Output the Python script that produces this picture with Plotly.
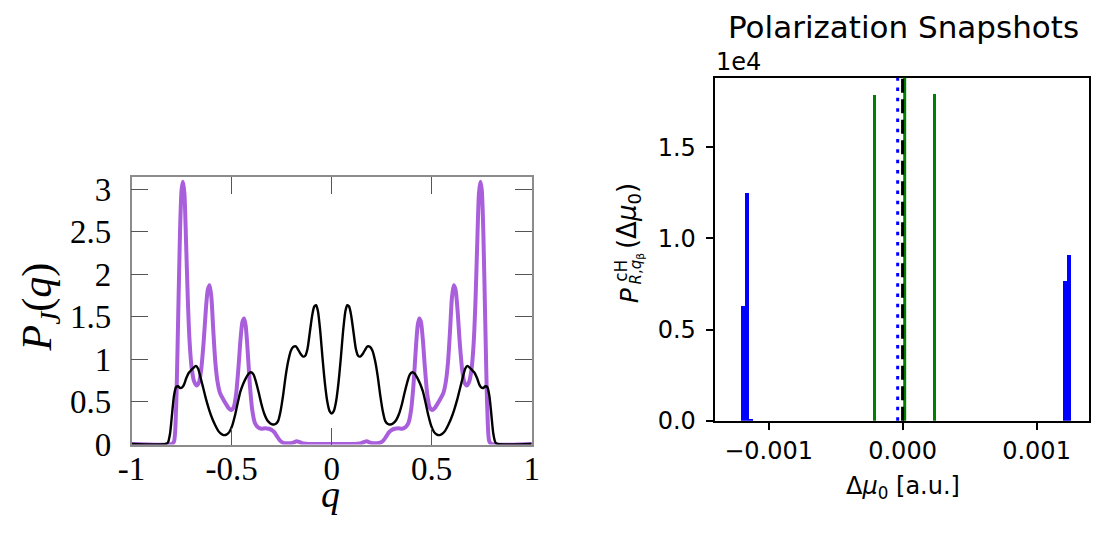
import plotly.graph_objects as go

# ---------------- Left panel data: P_J(q) ----------------
purple_q = [-1.000, -0.800, -0.788, -0.778, -0.768, -0.758, -0.750, -0.743, -0.736, -0.728,
            -0.719, -0.710, -0.700, -0.688, -0.676, -0.664, -0.652, -0.640, -0.629, -0.619,
            -0.610, -0.601, -0.592, -0.582, -0.571, -0.558, -0.543, -0.528, -0.514, -0.502,
            -0.490, -0.478, -0.466, -0.455, -0.446, -0.438, -0.430, -0.420, -0.409, -0.397,
            -0.384, -0.370, -0.352, -0.333, -0.315, -0.300, -0.287, -0.273, -0.258, -0.243,
            -0.225, -0.205, -0.188, -0.175, -0.163, -0.148, -0.128, -0.100, -0.050, 0.000,
            0.050, 0.100, 0.128, 0.148, 0.163, 0.175, 0.188, 0.205, 0.225, 0.243,
            0.258, 0.273, 0.287, 0.300, 0.315, 0.333, 0.352, 0.370, 0.384, 0.397,
            0.409, 0.420, 0.430, 0.438, 0.446, 0.455, 0.466, 0.478, 0.490, 0.502,
            0.514, 0.528, 0.543, 0.558, 0.571, 0.582, 0.592, 0.601, 0.610, 0.619,
            0.629, 0.640, 0.652, 0.664, 0.676, 0.688, 0.700, 0.710, 0.719, 0.728,
            0.736, 0.743, 0.750, 0.758, 0.768, 0.778, 0.788, 0.800, 1.000]
purple_p = [0.00, 0.00, 0.03, 0.40, 1.40, 2.50, 3.00, 3.09, 2.95, 2.40,
            1.70, 1.20, 0.90, 0.74, 0.69, 0.72, 0.88, 1.20, 1.58, 1.82,
            1.87, 1.72, 1.35, 0.98, 0.74, 0.60, 0.53, 0.47, 0.42, 0.40,
            0.43, 0.58, 0.90, 1.25, 1.44, 1.48, 1.40, 1.10, 0.70, 0.40,
            0.25, 0.20, 0.18, 0.185, 0.18, 0.165, 0.14, 0.09, 0.04, 0.015,
            0.008, 0.010, 0.020, 0.032, 0.025, 0.010, 0.004, 0.001, 0.000, 0.000,
            0.000, 0.001, 0.004, 0.010, 0.025, 0.032, 0.020, 0.010, 0.008, 0.015,
            0.04, 0.09, 0.14, 0.165, 0.18, 0.185, 0.18, 0.20, 0.25, 0.40,
            0.70, 1.10, 1.40, 1.48, 1.44, 1.25, 0.90, 0.58, 0.43, 0.40,
            0.42, 0.47, 0.53, 0.60, 0.74, 0.98, 1.35, 1.72, 1.87, 1.82,
            1.58, 1.20, 0.88, 0.72, 0.69, 0.74, 0.90, 1.20, 1.70, 2.40,
            2.95, 3.09, 3.00, 2.50, 1.40, 0.40, 0.03, 0.00, 0.00]

black_q = [-1.000, -0.830, -0.818, -0.808, -0.798, -0.788, -0.778, -0.768, -0.758, -0.748,
           -0.738, -0.726, -0.714, -0.702, -0.690, -0.679, -0.668, -0.656, -0.642, -0.627,
           -0.612, -0.597, -0.582, -0.567, -0.553, -0.540, -0.526, -0.512, -0.498, -0.484,
           -0.470, -0.456, -0.442, -0.428, -0.415, -0.403, -0.391, -0.378, -0.364, -0.350,
           -0.336, -0.322, -0.308, -0.294, -0.281, -0.268, -0.256, -0.243, -0.230, -0.217,
           -0.204, -0.191, -0.179, -0.167, -0.155, -0.143, -0.132, -0.121, -0.109, -0.097,
           -0.087, -0.078, -0.069, -0.058, -0.046, -0.034, -0.022, -0.011, 0.000,
           0.011, 0.022, 0.034, 0.046, 0.058, 0.069, 0.078, 0.087, 0.097, 0.109,
           0.121, 0.132, 0.143, 0.155, 0.167, 0.179, 0.191, 0.204, 0.217, 0.230,
           0.243, 0.256, 0.268, 0.281, 0.294, 0.308, 0.322, 0.336, 0.350, 0.364,
           0.378, 0.391, 0.403, 0.415, 0.428, 0.442, 0.456, 0.470, 0.484, 0.498,
           0.512, 0.526, 0.540, 0.553, 0.567, 0.582, 0.597, 0.612, 0.627, 0.642,
           0.656, 0.668, 0.679, 0.690, 0.702, 0.714, 0.726, 0.738, 0.748, 0.758,
           0.768, 0.778, 0.788, 0.798, 0.808, 0.818, 0.830, 1.000]
black_p = [0.00, 0.00, 0.02, 0.12, 0.35, 0.57, 0.67, 0.68, 0.66, 0.665,
           0.70, 0.78, 0.84, 0.87, 0.90, 0.92, 0.89, 0.79, 0.66, 0.52,
           0.40, 0.30, 0.22, 0.155, 0.12, 0.105, 0.11, 0.14, 0.21, 0.33,
           0.48, 0.62, 0.71, 0.78, 0.83, 0.845, 0.82, 0.73, 0.60, 0.46,
           0.35, 0.28, 0.245, 0.23, 0.235, 0.27, 0.38, 0.57, 0.80, 0.98,
           1.10, 1.145, 1.15, 1.11, 1.06, 1.03, 1.04, 1.12, 1.32, 1.52,
           1.62, 1.635, 1.57, 1.35, 1.02, 0.72, 0.50, 0.39, 0.36,
           0.39, 0.50, 0.72, 1.02, 1.35, 1.57, 1.635, 1.62, 1.52, 1.32,
           1.12, 1.04, 1.03, 1.06, 1.11, 1.15, 1.145, 1.10, 0.98, 0.80,
           0.57, 0.38, 0.27, 0.235, 0.23, 0.245, 0.28, 0.35, 0.46, 0.60,
           0.73, 0.82, 0.845, 0.83, 0.78, 0.71, 0.62, 0.48, 0.33, 0.21,
           0.14, 0.11, 0.105, 0.12, 0.155, 0.22, 0.30, 0.40, 0.52, 0.66,
           0.79, 0.89, 0.92, 0.90, 0.87, 0.84, 0.78, 0.70, 0.665, 0.66,
           0.68, 0.67, 0.57, 0.35, 0.12, 0.02, 0.00, 0.00]

left_xticks = [-1, -0.5, 0, 0.5, 1]
left_xticklabels = ["-1", "-0.5", "0", "0.5", "1"]
left_yticks = [0, 0.5, 1, 1.5, 2, 2.5, 3]
left_yticklabels = ["0", "0.5", "1", "1.5", "2", "2.5", "3"]

# ---------------- Right panel data: polarization histogram ----------------
blue_centers = [-0.0011851, -0.0011558, -0.0011295, 0.0012165, 0.0012443]
blue_counts = [6300, 12525, 60, 7660, 9110]
green_centers = [-0.0002078, 0.0002385]
green_counts = [17860, 17930]
blue_mean = -0.0000366
green_mean = 0.0000158
zero_ref = 0.0

right_xticks = [-0.001, 0.0, 0.001]
right_xticklabels = ["\u22120.001", "0.000", "0.001"]
right_yticks = [0, 5000, 10000, 15000]
right_yticklabels = ["0.0", "0.5", "1.0", "1.5"]

W, H = 1101, 536


def px_x(p):
    return p / W


def px_y(p):
    return 1 - p / H


fig = go.Figure()

fig.add_trace(go.Scatter(x=purple_q, y=purple_p, mode="lines",
                         line=dict(color="#a95fdc", width=4, shape="spline", smoothing=0.7),
                         xaxis="x", yaxis="y", showlegend=False))
fig.add_trace(go.Scatter(x=black_q, y=black_p, mode="lines",
                         line=dict(color="#000000", width=2.4, shape="spline", smoothing=0.7),
                         xaxis="x", yaxis="y", showlegend=False))

fig.add_trace(go.Bar(x=blue_centers, y=blue_counts, width=2.93e-5,
                     marker=dict(color="#0000ff", line=dict(width=0)),
                     xaxis="x2", yaxis="y2", showlegend=False))
fig.add_trace(go.Bar(x=green_centers, y=green_counts, width=2.4e-5,
                     marker=dict(color="#008000", line=dict(width=0)),
                     xaxis="x2", yaxis="y2", showlegend=False))

serif = "Liberation Serif, Times New Roman, serif"
sans = "DejaVu Sans, sans-serif"

fig.update_layout(
    width=W, height=H, autosize=False,
    margin=dict(l=0, r=0, t=0, b=0),
    paper_bgcolor="white", plot_bgcolor="white",
    bargap=0, barmode="overlay",
    xaxis=dict(domain=[px_x(120), px_x(528.3)], range=[-1, 1],
               tickvals=left_xticks, ticktext=left_xticklabels,
               ticks="inside", ticklen=17, tickwidth=1.3, tickcolor="#555555",
               showline=True, linecolor="#8c8c8c", linewidth=1.5, mirror="ticks",
               showgrid=False, zeroline=False, anchor="y",
               tickfont=dict(family=serif, size=33, color="black"),
               ticklabelstandoff=-6),
    yaxis=dict(domain=[px_y(459.3), px_y(180)], range=[-0.007, 3.143],
               tickvals=left_yticks, ticktext=left_yticklabels,
               ticks="inside", ticklen=17, tickwidth=1.3, tickcolor="#555555",
               showline=True, linecolor="#8c8c8c", linewidth=1.5, mirror="ticks",
               showgrid=False, zeroline=False, anchor="x",
               tickfont=dict(family=serif, size=33, color="black"),
               ticklabelstandoff=12),
    xaxis2=dict(domain=[px_x(715.7), px_x(1096.7)], range=[-0.0013972, 0.0013899],
                tickvals=right_xticks, ticktext=right_xticklabels,
                ticks="outside", ticklen=8, tickwidth=1.6, tickcolor="black",
                showline=True, linecolor="black", linewidth=1.6, mirror=True,
                showgrid=False, zeroline=False, anchor="y2",
                tickfont=dict(family=sans, size=24, color="black"),
                ticklabelstandoff=0),
    yaxis2=dict(domain=[px_y(434.3), px_y(76)], range=[0, 18810],
                tickvals=right_yticks, ticktext=right_yticklabels,
                ticks="outside", ticklen=8, tickwidth=1.6, tickcolor="black",
                showline=True, linecolor="black", linewidth=1.6, mirror=True,
                showgrid=False, zeroline=False, anchor="x2",
                tickfont=dict(family=sans, size=24, color="black"),
                ticklabelstandoff=5),
)

# vertical reference lines (full height)
fig.add_shape(type="line", xref="x2", yref="y2 domain", x0=green_mean, x1=green_mean, y0=0, y1=1,
              line=dict(color="#008000", width=3))
fig.add_shape(type="line", xref="x2", yref="y2 domain", x0=zero_ref, x1=zero_ref, y0=0, y1=1,
              line=dict(color="black", width=3, dash="14px,6.5px"))
fig.add_shape(type="line", xref="x2", yref="y2 domain", x0=blue_mean, x1=blue_mean, y0=0, y1=1,
              line=dict(color="#0000ff", width=3, dash="3.5px,6.8px"))

annotations = [
    dict(text="<i>P</i><sub><i>J</i></sub>(<i>q</i>)", x=px_x(27.5), y=px_y(315),
         textangle=-90, font=dict(family=serif, size=42, color="black")),
    dict(text="<i>q</i>", x=px_x(323), y=px_y(511),
         font=dict(family=serif, size=38, color="black")),
    dict(text="Polarization Snapshots", x=px_x(907.5), y=px_y(22.6),
         font=dict(family=sans, size=31, color="black")),
    dict(text="1e4", x=px_x(714.3), y=px_y(59.7), xanchor="left",
         font=dict(family=sans, size=24, color="black")),
    dict(text="\u0394<i>\u03bc</i><sub>0</sub> [a.u.]", x=px_x(907.5), y=px_y(504),
         font=dict(family=sans, size=24, color="black")),
    # y label of right panel: P with stacked super/subscripts, then (Δμ0)
    dict(text="<i>P</i>", x=px_x(628.3), y=px_y(303.5), textangle=-90,
         font=dict(family=sans, size=25, color="black")),
    dict(text="cH", x=px_x(619.1), y=px_y(278), textangle=-90,
         font=dict(family=sans, size=17, color="black")),
    dict(text="<i>R</i>,<i>q</i><sub>\u03b2</sub>", x=px_x(635), y=px_y(276), textangle=-90,
         font=dict(family=sans, size=15, color="black")),
    dict(text="(\u0394<i>\u03bc</i><sub>0</sub>)", x=px_x(627), y=px_y(220), textangle=-90,
         font=dict(family=sans, size=26, color="black")),
]
for a in annotations:
    a.setdefault("xanchor", "center")
    a.setdefault("yanchor", "middle")
    fig.add_annotation(xref="paper", yref="paper", showarrow=False, **a)

fig.write_html("out.html", config={"displayModeBar": False},
               post_script="document.body.style.margin='0';document.body.style.overflow='hidden';")
